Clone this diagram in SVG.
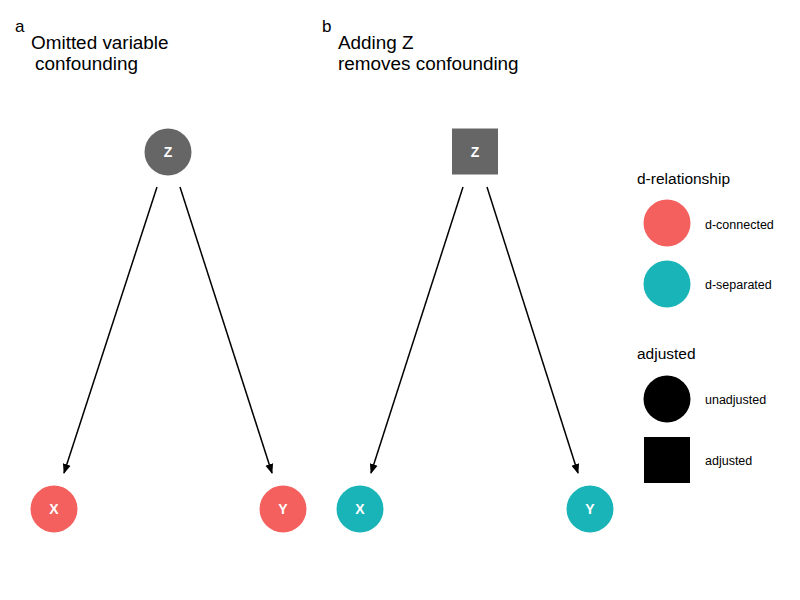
<svg xmlns="http://www.w3.org/2000/svg" width="800" height="600" viewBox="0 0 800 600">
<defs>
<marker id="arr" viewBox="0 0 10 10" refX="9" refY="5" markerWidth="10" markerHeight="10" markerUnits="userSpaceOnUse" orient="auto">
<path d="M0,1 L10,5 L0,9 Z" fill="#000"/>
</marker>
<style>
text{font-family:"Liberation Sans",Arial,sans-serif;fill:#000}
.t{font-size:18.9px}
.tag{font-size:17px}
.nl{font-size:14px;font-weight:bold;fill:#fff;text-anchor:middle}
.lt{font-size:15.5px}
.ll{font-size:12.5px}
.e{stroke:#000;stroke-width:1.5;fill:none;marker-end:url(#arr)}
.red{fill:#F4605E}
.teal{fill:#19B4B8}
.gray{fill:#666666}
</style>
</defs>
<rect width="800" height="600" fill="#fff"/>
<text class="tag" x="15" y="32">a</text>
<text class="t" x="31" y="49">Omitted variable</text>
<text class="t" x="35" y="70">confounding</text>
<text class="tag" x="322" y="32">b</text>
<text class="t" x="338" y="49">Adding Z</text>
<text class="t" x="338" y="70">removes confounding</text>
<g id="connectors">
<line class="e" x1="157" y1="187" x2="64" y2="473"/>
<line class="e" x1="180" y1="187" x2="272" y2="473"/>
<line class="e" x1="463" y1="187" x2="371" y2="473"/>
<line class="e" x1="487" y1="187" x2="578" y2="473"/>
</g>
<g id="a_Z"><circle class="gray" cx="168" cy="152" r="23.5"/><text class="nl" x="168" y="157">Z</text></g>
<g id="a_X"><circle class="red" cx="54" cy="509" r="23.5"/><text class="nl" x="54" y="514">X</text></g>
<g id="a_Y"><circle class="red" cx="283" cy="509" r="23.5"/><text class="nl" x="283" y="514">Y</text></g>
<g id="b_Z"><rect class="gray" x="452" y="128.5" width="46" height="46"/><text class="nl" x="475" y="157">Z</text></g>
<g id="b_X"><circle class="teal" cx="360" cy="509" r="23.5"/><text class="nl" x="360" y="514">X</text></g>
<g id="b_Y"><circle class="teal" cx="590" cy="509" r="23.5"/><text class="nl" x="590" y="514">Y</text></g>
<g id="legend">
<text class="lt" x="637" y="184">d-relationship</text>
<circle class="red" cx="667" cy="223" r="23.5"/>
<text class="ll" x="705" y="229">d-connected</text>
<circle class="teal" cx="667" cy="284" r="23.5"/>
<text class="ll" x="705" y="289">d-separated</text>
<text class="lt" x="637" y="359">adjusted</text>
<circle cx="667" cy="399" r="23.5" fill="#000"/>
<text class="ll" x="705" y="404">unadjusted</text>
<rect x="644" y="437" width="46" height="46" fill="#000"/>
<text class="ll" x="705" y="465">adjusted</text>
</g>
</svg>
